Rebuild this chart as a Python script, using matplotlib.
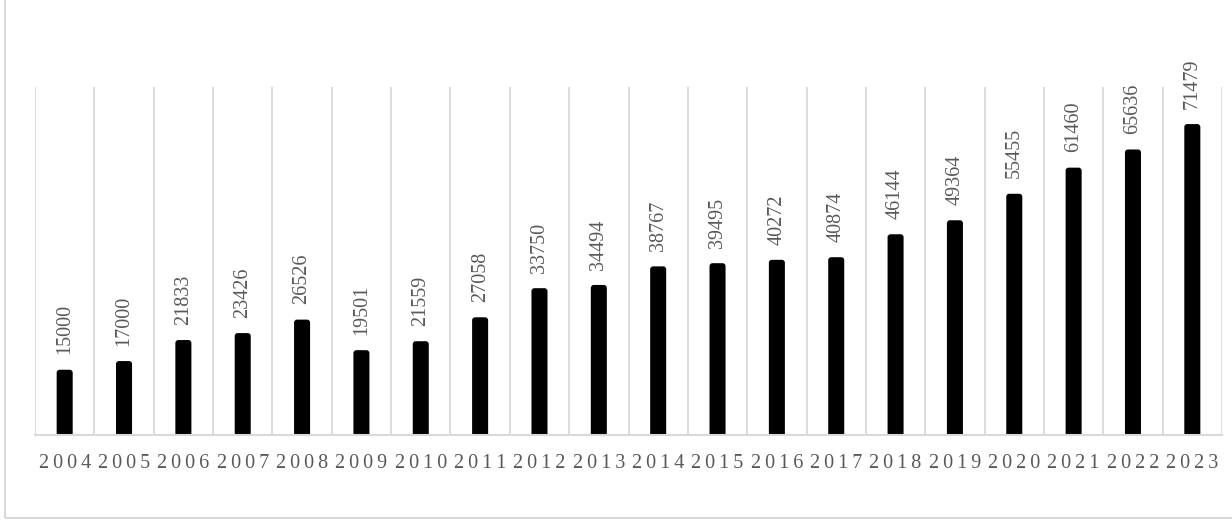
import numpy as np
import matplotlib.pyplot as plt
from matplotlib.patches import FancyBboxPatch, Rectangle

# data
years = [2004, 2005, 2006, 2007, 2008, 2009, 2010, 2011, 2012, 2013,
         2014, 2015, 2016, 2017, 2018, 2019, 2020, 2021, 2022, 2023]
values = [15000, 17000, 21833, 23426, 26526, 19501, 21559, 27058, 33750, 34494,
          38767, 39495, 40272, 40874, 46144, 49364, 55455, 61460, 65636, 71479]

grey_txt = "#595959"
grey_line = "#d9d9d9"
serif = "Liberation Serif"

fig = plt.figure(figsize=(12.32, 5.21), dpi=100)
ax = fig.add_axes([35 / 1232, 1 - 435 / 521, (1222 - 35) / 1232, (435 - 87) / 521])

x = np.arange(len(years))
ax.set_xlim(-0.5, len(years) - 0.5)
ax.set_ylim(0, 80000)

# bars dip a little under the baseline, like the rounded caps in the original
dip = 800
bars = ax.bar(x, np.array(values) + dip, bottom=-dip, width=0.27, color="black")

# swap plain rectangles for rounded ones
t0 = ax.transData.transform((0, 0))
sx = ax.transData.transform((1, 0))[0] - t0[0]
sy = ax.transData.transform((0, 1))[1] - t0[1]
for b in bars:
    p = FancyBboxPatch((b.get_x(), b.get_y()), b.get_width(), b.get_height(),
                       boxstyle="round,pad=0,rounding_size=0.05",
                       mutation_aspect=sx / sy, fc="black", ec="none", zorder=2)
    b.remove()
    ax.add_patch(p)

# value labels
for xi, v in zip(x, values):
    ax.annotate(str(v), (xi, v), xytext=(0, 11), textcoords="offset points",
                rotation=90, ha="center", va="bottom", fontsize=14.5,
                color=grey_txt, family=serif)

# vertical separators between categories
ax.set_xticks(np.arange(-0.5, len(years), 1.0), minor=True)
ax.grid(which="minor", axis="x", color=grey_line, lw=1.3)
ax.set_xticks(x, ["\u2009".join(str(y)) for y in years])
ax.tick_params(which="both", length=0)
ax.tick_params(axis="x", pad=14, labelsize=14.5, labelcolor=grey_txt)
for lbl in ax.get_xticklabels():
    lbl.set_family(serif)
ax.set_yticks([])

for s in ["left", "right", "top"]:
    ax.spines[s].set_visible(False)
ax.spines["bottom"].set_color(grey_line)
ax.spines["bottom"].set_linewidth(1.5)
ax.spines["bottom"].set_zorder(3)

# frame around the chart
fig.patches.append(Rectangle((5 / 1232, 3 / 521), 1.2, 1.2, transform=fig.transFigure,
                             fill=False, ec=grey_line, lw=1.5))

fig.savefig("out.png", dpi=100)
